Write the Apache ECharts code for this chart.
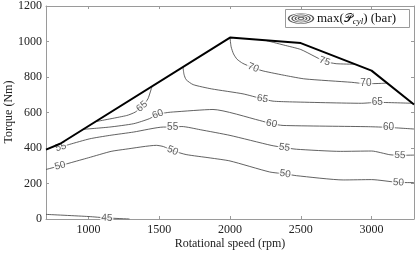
<!DOCTYPE html>
<html><head><meta charset="utf-8">
<script src="https://cdn.jsdelivr.net/npm/echarts@6/dist/echarts.min.js"></script>
<style>html,body{margin:0;padding:0;background:#fff}#c{width:415px;height:254px}</style>
</head><body><div id="c"></div>
<script>
// Tick values
const xTicks = [1000, 1500, 2000, 2500, 3000];
const yTicks = [0, 200, 400, 600, 800, 1000, 1200];

// Full-load boundary (rpm, Nm)
const boundary = [[700,391],[800,424],[2000,1022],[2500,991],[3000,836],[3300,645]];

// Contour lines of max cylinder pressure (bar)
const c45 = [[700,26],[1000,14],[1130,6],[1290,0]];
const c50 = [[700,279],[800,300],[870,316],[1000,345],[1160,381],[1260,393],[1480,415],[1530,408],[1595,385],[1690,363],[1860,344],[2000,327],[2280,265],[2390,254],[2470,244],[2800,220],[3000,222],[3190,206],[3300,205]];
const c55 = [[805,405],[865,420],[1010,452],[1150,471],[1320,490],[1530,518],[1595,518],[1660,521],[1790,503],[2000,471],[2290,415],[2385,402],[2470,393],[2780,381],[3000,383],[3130,362],[3200,359],[3300,360]];
const c60 = [[960,505],[1150,518],[1320,537],[1430,565],[1490,590],[1560,600],[1600,603],[1880,617],[2210,555],[2293,537],[2375,527],[2980,520],[3120,516],[3300,507]];
const c65a = [[1060,550],[1270,583],[1330,602],[1378,634],[1420,677],[1448,745]];
const c65b = [[1668,855],[1675,815],[1690,785],[1740,757],[1870,733],[2092,705],[2229,677],[2304,664],[2420,660],[2930,652],[3041,657],[3289,652]];
const c70 = [[2000,1022],[2008,970],[2025,930],[2050,900],[2090,877],[2164,852],[2234,834],[2400,807],[2530,789],[2860,770],[2960,762],[3070,764],[3113,766]];
const c75 = [[2257,1005],[2380,980],[2500,955],[2600,915],[2669,888],[2750,875],[2880,872]];

// Contour label positions: [rpm, Nm, level]
const contourLabels = [[1130,6,45],[800,300,50],[1595,385,50],[2390,254,50],[3190,206,50],
  [805,405,55],[1595,518,55],[2385,402,55],[3200,359,55],
  [1490,590,60],[2293,537,60],[3120,516,60],
  [1378,634,65],[2229,677,65],[3041,657,65],
  [2164,852,70],[2960,762,70],[2669,888,75]];
// label rotation (style)
const labelAngles = [-2,15,-23,-8,-3,15,0,-8,-3,20,-12,0,40,-10,0,-22,0,-18];

const serif = "'Liberation Serif', 'DejaVu Serif', serif";
const sans = "'Liberation Sans', Arial, sans-serif";
const axisGray = '#9a9a9a';
const contours = [c45, c50, c55, c60, c65a, c65b, c70, c75];

const chart = echarts.init(document.getElementById('c'), null, {renderer: 'canvas'});

const baseX = {type:'value', min:700, max:3300, splitLine:{show:false},
  axisLine:{show:true, onZero:false, lineStyle:{color:axisGray, width:1}},
  axisTick:{show:true, inside:true, length:3, customValues:xTicks, lineStyle:{color:axisGray}}};
const baseY = {type:'value', min:0, max:1200, interval:200, splitLine:{show:false},
  axisLine:{show:true, onZero:false, lineStyle:{color:axisGray, width:1}},
  axisTick:{show:true, inside:true, length:3, lineStyle:{color:axisGray}}};

const series = contours.map(c => ({
  type:'line', data:c, showSymbol:false, symbol:'none', smooth:0.2, z:2,
  lineStyle:{color:'#3a3a3a', width:0.8}, silent:true, animation:false
}));
series.push({
  type:'scatter', symbolSize:0, z:4, clip:false, animation:false, silent:true,
  data: contourLabels.map((d,i) => ({value:[d[0], d[1], d[2]],
    label:{rotate:labelAngles[i]}})),
  label:{show:true, position:'inside', formatter:p => String(p.value[2]),
    fontFamily:sans, fontSize:10, color:'#333', backgroundColor:'#fff', padding:[0,1]}
});
series.push({
  type:'line', data:boundary, showSymbol:false, symbol:'none', z:6, animation:false,
  lineStyle:{color:'#000', width:2}, silent:true
});

chart.setOption({
  animation:false,
  grid:{left:46, right:1, top:5, bottom:35, containLabel:false},
  xAxis:[
    Object.assign({}, baseX, {position:'bottom',
      axisLabel:{show:true, customValues:xTicks, margin:5, color:'#222', fontFamily:serif, fontSize:12,
        formatter:v => String(v)}}),
    Object.assign({}, baseX, {position:'top', axisLabel:{show:false}})
  ],
  yAxis:[
    Object.assign({}, baseY, {position:'left',
      axisLabel:{show:true, margin:4, color:'#222', fontFamily:serif, fontSize:12,
        formatter:v => String(v)}}),
    Object.assign({}, baseY, {position:'right', axisLabel:{show:false}})
  ],
  series: series,
  graphic:[
    {type:'text', x:230, y:244, style:{text:'Rotational speed (rpm)',
      font:'12px ' + serif, fill:'#222', align:'center', verticalAlign:'middle'}},
    {type:'text', x:9, y:112, rotation:Math.PI/2, style:{text:'Torque (Nm)',
      font:'12px ' + serif, fill:'#222', align:'center', verticalAlign:'middle'}},
    {type:'rect', shape:{x:285.5, y:9.5, width:124, height:18}, style:{fill:'#fff', stroke:axisGray, lineWidth:1}, z:10},
    {type:'circle', x:301, y:18.5, scaleX:2.5, scaleY:1, shape:{cx:0, cy:0, r:5}, style:{fill:'none', stroke:'#555', lineWidth:0.6, strokeNoScale:true}, z:11},
    {type:'circle', x:301, y:18.5, scaleX:2.5, scaleY:1, shape:{cx:0, cy:0, r:3.6}, style:{fill:'none', stroke:'#555', lineWidth:0.6, strokeNoScale:true}, z:11},
    {type:'circle', x:301, y:18.5, scaleX:2.5, scaleY:1, shape:{cx:0, cy:0, r:2.3}, style:{fill:'none', stroke:'#555', lineWidth:0.6, strokeNoScale:true}, z:11},
    {type:'circle', x:301, y:18.5, scaleX:2.5, scaleY:1, shape:{cx:0, cy:0, r:1.1}, style:{fill:'none', stroke:'#555', lineWidth:0.6, strokeNoScale:true}, z:11},
    {type:'text', x:317, y:18.5, z:11, style:{text:'max({p|𝒫}{s|cyl}) (bar)',
      font:'13px ' + serif, fill:'#111', align:'left', verticalAlign:'middle',
      rich:{p:{fontFamily:"'DejaVu Sans', 'DejaVu Serif', serif", fontSize:12, fill:'#111'},
            s:{fontFamily:serif, fontStyle:'italic', fontSize:9, fill:'#111', verticalAlign:'bottom', padding:[6,0,0,0]}}}}
  ]
});
</script></body></html>
